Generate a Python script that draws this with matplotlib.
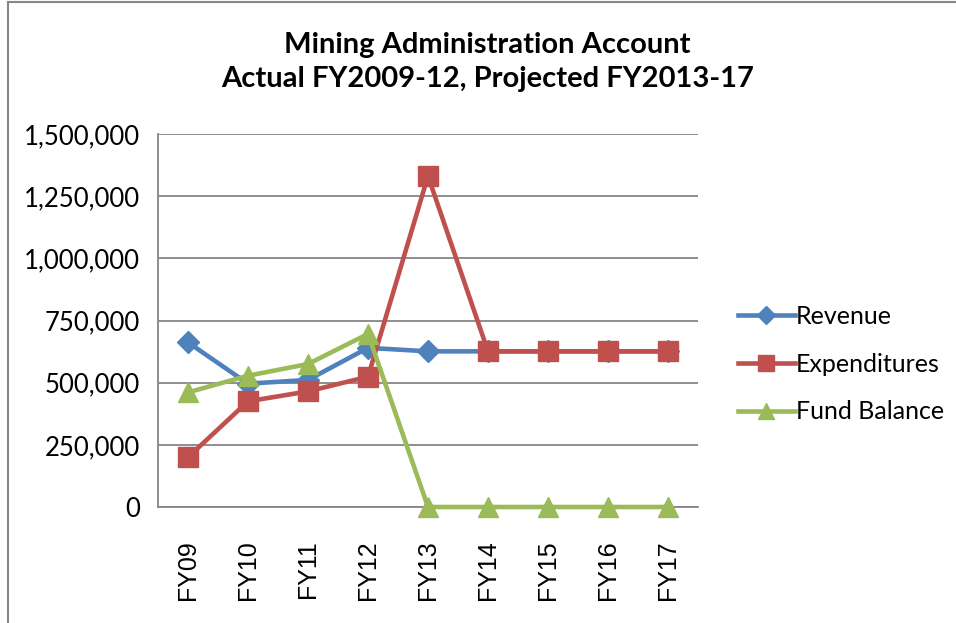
import matplotlib
matplotlib.use('Agg')
import matplotlib.pyplot as plt
from matplotlib.lines import Line2D
from matplotlib.ticker import FuncFormatter

# Values
years = ['FY09', 'FY10', 'FY11', 'FY12', 'FY13', 'FY14', 'FY15', 'FY16', 'FY17']
revenue = [662000, 496000, 511000, 640000, 626000, 626000, 626000, 626000, 626000]
expenditures = [200000, 425000, 465000, 524000, 1331000, 626000, 626000, 626000, 626000]
fund_balance = [461000, 528000, 575000, 696000, 0, 0, 0, 0, 0]

plt.rcParams['font.family'] = ['Lato', 'DejaVu Sans']

fig = plt.figure(figsize=(9.56, 6.23), dpi=100)
ax = fig.add_axes([158 / 956, 1 - 507 / 623, 540 / 956, 373 / 623])

x = list(range(len(years)))
ax.plot(x, revenue, color='#4F81BD', lw=3.3, marker='D', ms=11, label='Revenue', zorder=3)
ax.plot(x, expenditures, color='#C0504D', lw=3.3, marker='s', ms=14, label='Expenditures', zorder=4)
ax.plot(x, fund_balance, color='#9BBB59', lw=3.3, marker='^', ms=14, label='Fund Balance', zorder=5)

ax.set_xlim(-0.5, len(years) - 0.5)
ax.set_ylim(0, 1500000)
ax.set_yticks(range(0, 1500001, 250000))
ax.yaxis.set_major_formatter(FuncFormatter(lambda v, p: f'{int(v):,}'))
ax.set_xticks(x)
ax.set_xticklabels(years, rotation=90, family=['Liberation Sans'])
ax.tick_params(axis='y', length=0, pad=13, labelsize=18.5)
ax.tick_params(axis='x', length=0, pad=24, labelsize=18)
for lbl in ax.get_xticklabels():
    lbl.set_verticalalignment('top')

ax.grid(axis='y', color='#868686', lw=1.3)
ax.set_axisbelow(True)
for side in ['top', 'right']:
    ax.spines[side].set_visible(False)
for side in ['left', 'bottom']:
    ax.spines[side].set_color('#868686')
    ax.spines[side].set_linewidth(1.3)
for ln in ax.lines:
    ln.set_clip_on(False)

# title
fig.text(487 / 956, 1 - 45 / 623, 'Mining Administration Account', ha='center', va='center',
         fontsize=21, fontweight='bold')
fig.text(488 / 956, 1 - 79 / 623, 'Actual FY2009-12, Projected FY2013-17', ha='center', va='center',
         fontsize=21, fontweight='bold')

# legend
handles = [Line2D([0], [0], color='#4F81BD', lw=3.3, marker='D', ms=9),
           Line2D([0], [0], color='#C0504D', lw=3.3, marker='s', ms=11),
           Line2D([0], [0], color='#9BBB59', lw=3.3, marker='^', ms=11)]
fig.legend(handles, ['Revenue', 'Expenditures', 'Fund Balance'],
           loc='center left', bbox_to_anchor=(725 / 956, 1 - 364 / 623),
           frameon=False, fontsize=18, handlelength=2.3, handletextpad=0.05,
           labelspacing=0.99, borderpad=0)

# chart border (left and top edges)
fig.add_artist(Line2D([8 / 956, 8 / 956], [0, 1 - 2 / 623], color='#868686', lw=1.5))
fig.add_artist(Line2D([8 / 956, 1], [1 - 2 / 623, 1 - 2 / 623], color='#868686', lw=1.5))

fig.savefig('out.png', dpi=100)
